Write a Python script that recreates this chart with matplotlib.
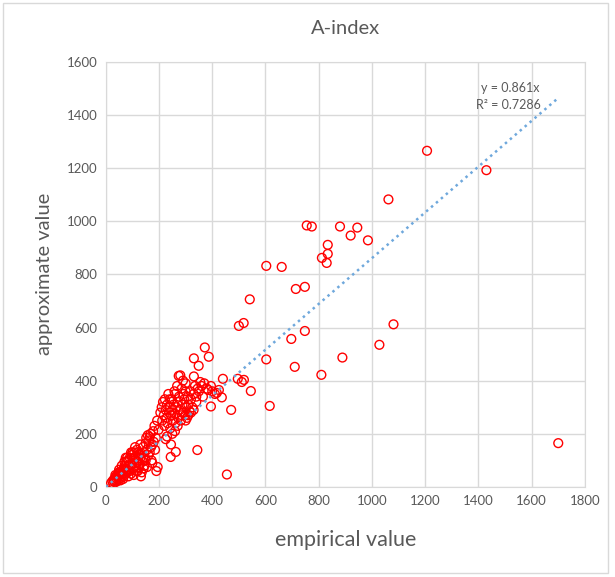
import numpy as np
import matplotlib.pyplot as plt
from matplotlib.patches import Rectangle

plt.rcParams['font.family'] = ['Lato', 'DejaVu Sans']

# low cluster, x < 200
low_x = [20, 25, 28, 30, 33, 35, 38, 40, 42, 45, 47, 50, 52, 55, 57, 60, 62, 65, 67, 70,
         72, 75, 78, 80, 82, 85, 87, 90, 92, 95, 97, 100, 102, 105, 107, 110, 112, 115, 117, 120,
         122, 125, 127, 130, 132, 135, 138, 140, 142, 145, 148, 150, 152, 155, 158, 160, 163, 165, 168, 170,
         172, 175, 178, 180, 183, 185, 188, 190, 193, 195, 198,
         60, 70, 80, 90, 100, 110, 120, 130, 140, 150, 85, 95, 105, 115, 125, 135, 145, 155, 165, 175,
         40, 50, 65, 75, 55, 48, 36]
low_y = [15, 22, 12, 28, 20, 35, 25, 42, 30, 38, 50, 30, 45, 58, 40, 35, 62, 50, 70, 45,
         80, 60, 95, 55, 75, 100, 65, 110, 85, 50, 120, 90, 70, 105, 130, 80, 115, 95, 140, 60,
         100, 120, 85, 110, 40, 125, 95, 150, 70, 130, 110, 165, 185, 140, 195, 120, 175, 188, 200, 150,
         100, 90, 210, 170, 230, 140, 185, 60, 250, 75, 215,
         80, 95, 110, 60, 130, 150, 130, 160, 110, 100, 40, 130, 45, 60, 75, 55, 80, 75, 130, 160,
         20, 65, 30, 110, 25, 55, 45]

# middle cluster, 200 < x < 420
mid_x = [205, 210, 212, 215, 218, 220, 222, 225, 228, 230, 232, 235, 238, 240, 242, 245, 248, 250, 252, 255,
         258, 260, 262, 265, 268, 270, 272, 275, 278, 280, 282, 285, 288, 290, 292, 295, 298, 300, 302, 305,
         308, 310, 315, 318, 320, 325, 330, 335, 340, 345, 350, 355, 360, 365, 370, 380, 385, 395, 400, 410,
         260, 270, 250, 230, 285, 300, 310, 320, 330, 340, 290, 300, 260, 240, 225, 245, 263, 244]
mid_y = [280, 300, 250, 320, 270, 230, 330, 290, 260, 310, 240, 350, 280, 300, 220, 270, 330, 290, 250, 310,
         360, 275, 240, 300, 380, 320, 260, 340, 290, 420, 250, 370, 310, 280, 350, 330, 270, 390, 300, 260,
         340, 310, 285, 360, 330, 300, 350, 380, 340, 370, 360, 395, 380, 340, 390, 370, 365, 380, 360, 350,
         210, 230, 200, 190, 270, 250, 270, 280, 290, 320, 400, 360, 350, 330, 180, 160, 132, 113]

# scattered points
out_x = [1700, 1430, 1207, 1062, 1081, 1028, 985, 945, 920, 880, 889, 834, 834, 812, 830, 810, 774, 755,
         748, 748, 714, 697, 710, 661, 603, 603, 616, 541, 500, 518, 545, 471, 455, 440, 496, 519, 511,
         395, 372, 331, 387, 349, 344, 274, 331, 425, 417, 436]
out_y = [165, 1192, 1265, 1082, 612, 535, 928, 976, 946, 980, 487, 911, 877, 862, 843, 422, 980, 984,
         753, 587, 745, 557, 452, 828, 832, 480, 305, 706, 606, 617, 361, 290, 47, 407, 407, 403, 395,
         303, 525, 484, 490, 456, 139, 418, 416, 365, 354, 337]

x = np.array(low_x + mid_x + out_x, dtype=float)
y = np.array(low_y + mid_y + out_y, dtype=float)

slope = 0.861
r2 = 0.7286

fig = plt.figure(figsize=(6.15, 5.77), dpi=100)
fig.patches.append(Rectangle((0.005, 0.007), 0.984, 0.988, transform=fig.transFigure,
                             fill=False, edgecolor='#D9D9D9', linewidth=1))
ax = fig.add_axes([0.172, 0.156, 0.779, 0.737])

ax.scatter(x, y, s=40, facecolors='none', edgecolors='#FF0000', linewidths=1.0, zorder=3)

# trendline through origin
tx = np.array([0, x.max()])
ax.plot(tx, slope * tx, linestyle=(0, (1, 1.6)), color='#6FA8DC', linewidth=1.8, zorder=4)

ax.text(1518, 1502, 'y = 0.861x', ha='center', va='center', fontsize=9, color='#595959')
ax.text(1511, 1438, 'R² = {0}'.format(r2), ha='center', va='center', fontsize=9, color='#595959')

ax.set_xlim(0, 1800)
ax.set_ylim(0, 1600)
ax.set_xticks(np.arange(0, 1801, 200))
ax.set_yticks(np.arange(0, 1601, 200))
ax.grid(True, color='#D9D9D9', linewidth=1)
ax.set_axisbelow(True)
for s in ax.spines.values():
    s.set_color('#D9D9D9')
ax.tick_params(length=0, labelsize=9.5, labelcolor='#595959', pad=6)

ax.set_title('A-index', fontsize=14.5, color='#595959', pad=20)
ax.set_xlabel('empirical value', fontsize=15.5, color='#595959', labelpad=16)
ax.set_ylabel('approximate value', fontsize=14.5, color='#595959', labelpad=10)

fig.savefig('out.png', dpi=100)
